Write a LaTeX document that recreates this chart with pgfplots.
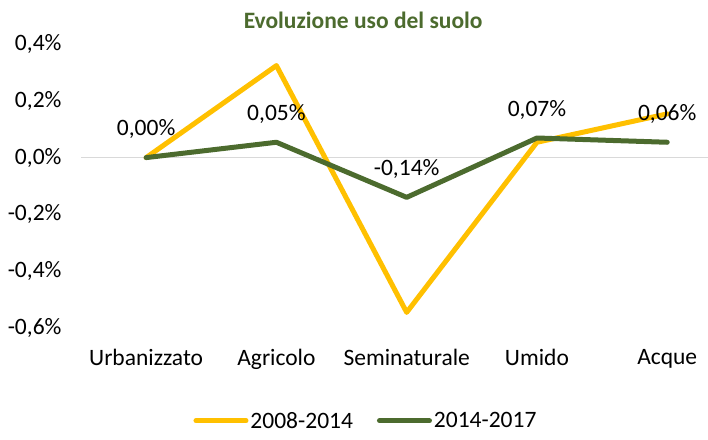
\documentclass[border=0pt]{standalone}
\usepackage{pgfplots}
\pgfplotsset{compat=1.18}
\usepackage{fontspec}
\setmainfont{Carlito}
\definecolor{cyel}{RGB}{255,192,0}
\definecolor{cgrn}{RGB}{76,107,46}
\definecolor{cgrid}{RGB}{217,217,217}
\begin{document}
\begin{tikzpicture}[x=1pt,y=1pt]
\path[use as bounding box] (0,0) rectangle (708,439);
\begin{axis}[
  at={(81pt,111pt)}, anchor=south west,
  scale only axis, width=627pt, height=284pt,
  xmin=-0.5, xmax=4.313, ymin=-0.6, ymax=0.4,
  axis line style={draw=none},
  major tick length=0pt,
  tick style={draw=none},
  clip=false,
  font=\fontsize{23.5}{28}\selectfont,
  xtick={0,1,2,3,4},
  xticklabels={Urbanizzato,Agricolo,Seminaturale,Umido,Acque},
  ytick={-0.6,-0.4,-0.2,0,0.2,0.4},
  yticklabels={-0{,}6\%,-0{,}4\%,-0{,}2\%,0{,}0\%,0{,}2\%,0{,}4\%},
  yticklabel style={xshift=-16pt},
  xticklabel style={yshift=-18pt},
  legend columns=2,
  legend style={draw=none, fill=none, at={(axis description cs:0.4545,-0.327)}, anchor=center,
    font=\fontsize{23.5}{28}\selectfont, column sep=0pt,
    /tikz/every even column/.append style={column sep=22pt}},
  legend image code/.code={\draw[#1, line width=5pt, line cap=round] (0pt,0pt) -- (50pt,0pt);},
]
\draw[cgrid, line width=1.5pt] (axis cs:-0.5,0) -- (axis cs:4.313,0);
\addplot[cyel, line width=5pt, line join=round, line cap=round] coordinates {(0,0) (1,0.324) (2,-0.545) (3,0.054) (4,0.154)};
\addlegendentry{2008-2014}
\addplot[cgrn, line width=5pt, line join=round, line cap=round,
  nodes near coords, point meta=explicit symbolic,
  every node near coord/.append style={black, font=\fontsize{23.5}{28}\selectfont, yshift=13pt}]
  coordinates {(0,0)[0{,}00\%] (1,0.054)[0{,}05\%] (2,-0.14)[-0{,}14\%] (3,0.069)[0{,}07\%] (4,0.054)[0{,}06\%]};
\addlegendentry{2014-2017}
\node[font=\fontsize{23.5}{28}\selectfont\bfseries, text=cgrn] at (axis description cs:0.45,1.084) {Evoluzione uso del suolo};
\end{axis}
\end{tikzpicture}
\end{document}
